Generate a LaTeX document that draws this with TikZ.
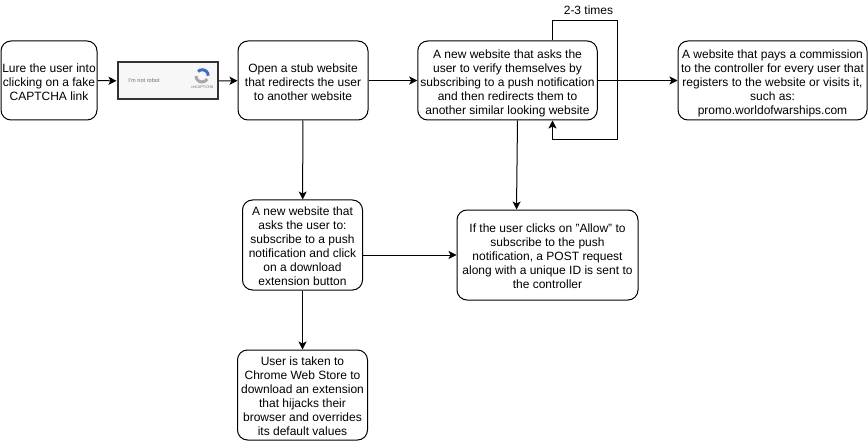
\documentclass[tikz,border=0pt]{standalone}
\usepackage{fontspec}
\setmainfont{Liberation Sans}
\usetikzlibrary{arrows.meta}
\definecolor{captchabg}{HTML}{F7F7F7}
\definecolor{captchaedge}{HTML}{333333}
\definecolor{captchatext}{HTML}{6E6E6E}
\definecolor{captchablue}{HTML}{3F6FC4}
\definecolor{captchagrey}{HTML}{A8A8A8}
\newcommand{\stagetext}[1]{\raisebox{-3pt}[\height][\depth]{\begin{tabular}{@{}c@{}}#1\end{tabular}}}
\begin{document}
\begin{tikzpicture}[x=1pt, y=-1pt,
	every node/.style = {font=\fontsize{12}{14}\selectfont, inner sep=0pt},
	stagebox/.style = {shape=rectangle, rounded corners=10pt, draw, line width=1pt, fill=white},
	conn/.style = {draw, line width=1pt, -{Stealth[length=8pt,width=8pt,inset=2pt]}}]
	\useasboundingbox (0,0) rectangle (868,441);
	\fill[white] (0,0) rectangle (868,441);

	\node[stagebox, minimum width=96pt, minimum height=79pt] (lure) at (49,80.5) {\stagetext{Lure the user into\\clicking on a fake\\CAPTCHA link}};
	\node[shape=rectangle, draw=captchaedge, line width=2pt, fill=captchabg, minimum width=100pt, minimum height=37pt] (captcha) at (167.5,81) {};
	\node[text=captchatext, font=\fontsize{5.6}{6}\selectfont] (robot) at (144,80.5) {I'm not robot};
	\node[text=captchatext, font=\fontsize{3.9}{4}\selectfont] (recaptcha) at (202.5,87.5) {reCAPTCHA};
	\draw[captchagrey, line width=3pt] (196,76) arc[start angle=180, end angle=30, radius=6];
	\draw[captchablue, line width=3pt] (198,71.5) arc[start angle=225, end angle=360, radius=6];
	\node[stagebox, minimum width=130pt, minimum height=79pt] (stub) at (303,80.5) {\stagetext{Open a stub website\\that redirects the user\\to another website}};
	\node[stagebox, minimum width=179.5pt, minimum height=79pt] (verify) at (507.5,80.5) {\stagetext{A new website that asks the\\user to verify themselves by\\subscribing to a push notification\\and then redirects them to\\another similar looking website}};
	\node[stagebox, minimum width=189pt, minimum height=79pt] (promo) at (772.5,80.5) {\stagetext{A website that pays a commission\\to the controller for every user that\\registers to the website or visits it,\\such as:\\promo.worldofwarships.com}};
	\node[stagebox, minimum width=120pt, minimum height=90pt] (ask) at (302.5,245) {\stagetext{A new website that\\asks the user to:\\subscribe to a push\\notification and click\\on a download\\extension button}};
	\node[stagebox, minimum width=181pt, minimum height=90pt] (allow) at (547.5,255) {\stagetext{If the user clicks on "Allow" to\\subscribe to the push\\notification, a POST request\\along with a unique ID is sent to\\the controller}};
	\node[stagebox, minimum width=130pt, minimum height=90pt] (store) at (302.5,395) {\stagetext{User is taken to\\Chrome Web Store to\\download an extension\\that hijacks their\\browser and overrides\\its default values}};
	\node (times) at (588.5,10.5) {2-3 times};

	\coordinate (looptop) at (617.5,20.5);
	\coordinate (loopbot) at (617.5,140);

	\draw[conn] (lure) -- (captcha);
	\draw[conn] (captcha) -- (stub);
	\draw[conn] (stub) -- (verify);
	\draw[conn] (verify) -- (promo);
	\draw[conn] (stub) -- (ask);
	\draw[conn] ([xshift=10pt]verify.south) -- ([xshift=-31pt]allow.north);
	\draw[conn] (ask.east |- allow.west) -- (allow.west);
	\draw[conn] (ask) -- (store);
	\draw[conn] ([xshift=45pt]verify.north) |- (looptop) -- (loopbot) -| ([xshift=45pt]verify.south);
\end{tikzpicture}
\end{document}
